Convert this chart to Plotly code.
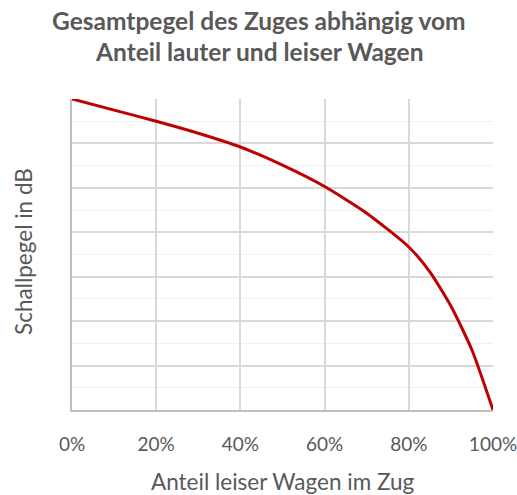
import plotly.graph_objects as go

share_quiet = [0.0, 0.10, 0.20, 0.30, 0.40, 0.50, 0.60, 0.70, 0.80, 0.85, 0.90, 0.95, 1.00]
level = [7.0, 6.75, 6.50, 6.23, 5.92, 5.51, 5.03, 4.43, 3.67, 3.11, 2.34, 1.35, 0.0]

title_lines = ["Gesamtpegel des Zuges abhängig vom", "Anteil lauter und leiser Wagen"]
x_title = "Anteil leiser Wagen im Zug"
y_title = "Schallpegel in dB"

font_family = "Lato, 'Open Sans', sans-serif"
grey = "#595959"

W, H = 517, 495
L, R, T, B = 72, 24, 99, 85
pw, ph = W - L - R, H - T - B

fig = go.Figure()
fig.add_trace(go.Scatter(
    x=share_quiet, y=level, mode="lines",
    line=dict(color="#C00000", width=3, shape="spline", smoothing=0.6),
    cliponaxis=False, hoverinfo="skip", showlegend=False,
))

annotations = []
for txt, yc in zip(title_lines, [20, 52]):
    annotations.append(dict(
        text="<b>" + txt + "</b>", xref="paper", yref="paper",
        x=(W / 2 - L) / pw, y=(H - B - yc) / ph,
        xanchor="center", yanchor="middle", showarrow=False,
        font=dict(size=24.5, color=grey, family=font_family),
    ))
annotations.append(dict(
    text=x_title, xref="paper", yref="paper",
    x=0.5, y=(H - B - 481) / ph, xanchor="center", yanchor="middle",
    showarrow=False, borderpad=0,
    font=dict(size=22.5, color=grey, family=font_family),
))
annotations.append(dict(
    text=y_title, xref="paper", yref="paper", textangle=-90,
    x=(23 - L) / pw, y=(H - B - 252) / ph, xanchor="center", yanchor="middle",
    showarrow=False, font=dict(size=22.5, color=grey, family=font_family),
))

fig.update_layout(
    width=W, height=H,
    margin=dict(l=L, r=R, t=T, b=B, autoexpand=False),
    paper_bgcolor="white", plot_bgcolor="white",
    font=dict(family=font_family, color=grey),
    annotations=annotations,
    xaxis=dict(
        range=[0, 1], tick0=0, dtick=0.2, tickformat=".0%",
        showgrid=True, gridcolor="#d9d9d9", gridwidth=1.5,
        showline=True, linecolor="#bfbfbf", linewidth=1.5,
        zeroline=False, ticks="", tickfont=dict(size=19, color=grey),
        ticklabelstandoff=16, ticklabeloverflow="allow", automargin=False,
        fixedrange=True,
    ),
    yaxis=dict(
        range=[0, 7], tick0=0, dtick=1,
        showgrid=True, gridcolor="#d9d9d9", gridwidth=1.5,
        minor=dict(dtick=0.5, showgrid=True, gridcolor="#f0f0f0", gridwidth=1),
        showline=True, linecolor="#bfbfbf", linewidth=1.5,
        zeroline=False, ticks="", showticklabels=False, automargin=False,
        fixedrange=True,
    ),
)

fig.write_html("out.html", post_script="document.body.style.margin='0';",
               config={"displayModeBar": False})
